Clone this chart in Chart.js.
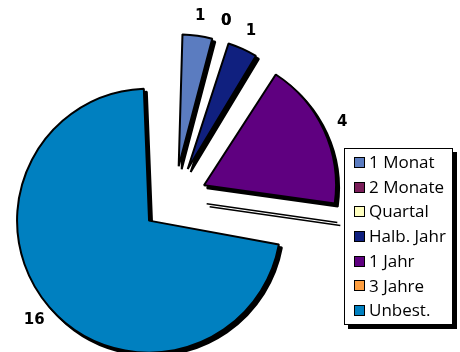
<!DOCTYPE html>
<html><head><meta charset="utf-8">
<script src="https://cdn.jsdelivr.net/npm/chart.js@4/dist/chart.umd.min.js"></script>
<style>
html,body{margin:0;padding:0;background:#fff;}
#wrap{position:relative;width:460px;height:352px;overflow:hidden;}
#legend{position:absolute;left:344px;top:148px;width:109px;height:177px;border:1px solid #000;background:#fff;box-shadow:4px 4px 0 #000;box-sizing:border-box;font-family:"Open Sans",sans-serif;font-size:17px;color:#000;}
.item{position:absolute;left:9px;height:20px;line-height:20px;white-space:nowrap;}
.sw{display:inline-block;width:9px;height:9px;border:1.5px solid #000;vertical-align:middle;margin-right:4px;position:relative;top:-1px;}
</style></head>
<body><div id="wrap"><canvas id="c" width="460" height="352"></canvas><div id="legend"></div></div>
<script>
const categories = ["1 Monat","2 Monate","Quartal","Halb. Jahr","1 Jahr","3 Jahre","Unbest."];
const values = [1,0,0,1,4,0,16];
const colors = ["#5b7cc0","#7b1e5a","#ffffc0","#10207f","#5f0080","#ff9f40","#0080c0"];
const explode = [132,132,132,132,132,132,132];
const pieRadius = 132;

// legend
const lg = document.getElementById('legend');
categories.forEach((c,i)=>{
  const d=document.createElement('div');d.className='item';d.style.top=(3+i*24.7)+'px';
  d.innerHTML='<span class="sw" style="background:'+colors[i]+'"></span>'+c;
  lg.appendChild(d);
});

function radFix(el){
  const off=(el.options.offset||0)/4;
  return off*(1-Math.sin(Math.min(Math.PI, el.circumference||0)));
}

const shadowPlugin = {
  id:'shadow',
  afterDatasetUpdate(chart){
    chart.getDatasetMeta(0).data.forEach(el=>{
      el.outerRadius = pieRadius - radFix(el);
    });
  },
  beforeDatasetsDraw(chart){
    const ctx=chart.ctx; const meta=chart.getDatasetMeta(0);
    ctx.save(); ctx.translate(3,3);
    meta.data.forEach(el=>{
      if(el.circumference===0) return;
      const o=el.options; el.options=Object.assign({},o,{backgroundColor:'#000',borderColor:'#000'});
      el.draw(ctx); el.options=o;
    });
    ctx.restore();
  },
  afterDatasetsDraw(chart){
    const ctx=chart.ctx; const meta=chart.getDatasetMeta(0);
    meta.data.forEach((el,i)=>{
      const off=(el.options.offset||0)/4;
      const mid=(el.startAngle+el.endAngle)/2;
      const cx=el.x+Math.cos(mid)*off, cy=el.y+Math.sin(mid)*off;
      const R=el.outerRadius+radFix(el);
      if(el.circumference===0 && i===5){
        ctx.save(); ctx.strokeStyle='#000'; ctx.lineWidth=1.5;
        [[0,0],[3,3]].forEach(([dx,dy])=>{
          ctx.beginPath(); ctx.moveTo(cx+dx,cy+dy);
          ctx.lineTo(cx+dx+Math.cos(el.startAngle)*R, cy+dy+Math.sin(el.startAngle)*R);
          ctx.stroke();
        });
        ctx.restore();
      }
      const r=R+20;
      ctx.save(); ctx.font='bold 15px "DejaVu Sans", sans-serif'; ctx.fillStyle='#000';
      ctx.textAlign='center'; ctx.textBaseline='middle';
      ctx.fillText(String(values[i]), cx+Math.cos(mid)*r, cy+Math.sin(mid)*r);
      ctx.restore();
    });
  }
};

new Chart(document.getElementById('c'),{
  type:'pie',
  data:{labels:categories,datasets:[{data:values,backgroundColor:colors,borderColor:'#000',borderWidth:2,offset:explode,clip:false}]},
  options:{responsive:false,animation:false,radius:99,
    layout:{padding:{left:0,right:112,top:46,bottom:0}},
    plugins:{legend:{display:false},tooltip:{enabled:false}}},
  plugins:[shadowPlugin]
});
</script></body></html>
